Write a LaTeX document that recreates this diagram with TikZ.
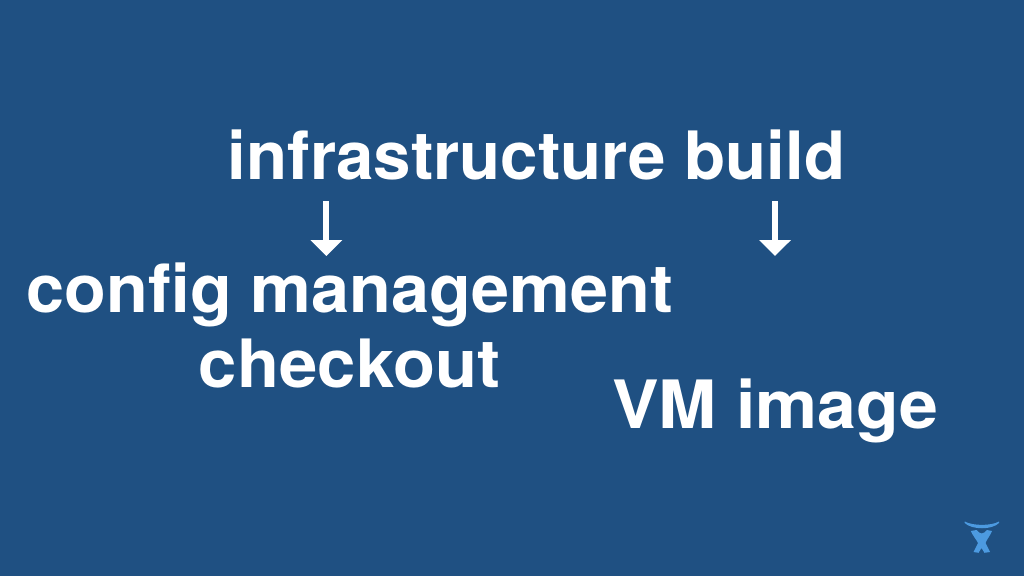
\documentclass[tikz,border=0pt]{standalone}
\usepackage{fontspec}
\setmainfont{TeX Gyre Heros}[BoldFont={* Bold}]
\usetikzlibrary{arrows.meta}
\definecolor{bg}{HTML}{1F5082}
\definecolor{logo}{HTML}{4C9AE0}
\tikzset{lbl/.style={text=white,font=\fontsize{50}{60}\selectfont\bfseries,inner sep=0pt,anchor=base},
 arr/.style={draw=white,line width=4.5pt,-{Triangle[length=12pt,width=23.25pt]}}}
\begin{document}
\begin{tikzpicture}[x=0.75pt,y=-0.75pt]
\path[fill=bg] (0,0) rectangle (1024,576);
\useasboundingbox (0,0) rectangle (1024,576);
\node[lbl,xscale=1.009] (infra) at (536.5,179) {infrastructure build};
\node[lbl,xscale=1.026] (config) at (350,312) {config management};
\node[lbl,xscale=1.033] (checkout) at (349.5,387) {checkout};
\node[lbl,xscale=1.047] (vm) at (775.5,428) {VM image};
\coordinate (a1s) at (326.3,201);
\coordinate (a1e) at (326.3,256);
\coordinate (a2s) at (775,201);
\coordinate (a2e) at (775,256);
\draw[arr] (a1s) -- (a1e);
\draw[arr] (a2s) -- (a2e);
\fill[logo] (964.7,521.5) .. controls (973,526) and (991,526) .. (999,521.5) -- (999,523) .. controls (992,530) and (972,530) .. (964.7,523) -- cycle;
\fill[logo] (970.8,531) -- (976.5,530) .. controls (978.5,532) and (980,533.5) .. (981.7,533.5) .. controls (983.4,533.5) and (985,532) .. (987,530) -- (992,531) .. controls (990,536) and (987,539) .. (985.5,543) -- (990,552) -- (984.5,552.8) -- (981.5,548) -- (978.5,552.8) -- (973.5,552) -- (978,543) .. controls (976,539) and (973,536) .. (970.8,531) -- cycle;
\end{tikzpicture}
\end{document}
